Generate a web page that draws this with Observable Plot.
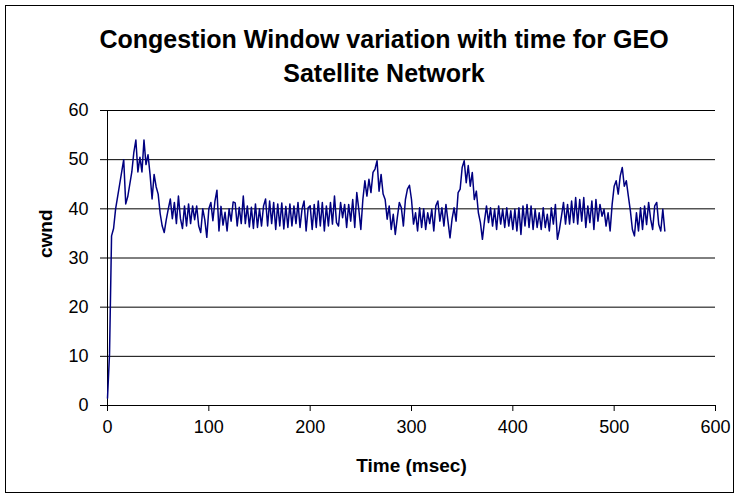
<!DOCTYPE html>
<html>
<head>
<meta charset="utf-8">
<script src="https://cdn.jsdelivr.net/npm/d3@7"></script>
<script src="https://cdn.jsdelivr.net/npm/@observablehq/plot@0.6"></script>
<style>
  html, body { margin: 0; padding: 0; background: #fff; }
  #wrap { position: relative; width: 735px; height: 494px; overflow: hidden; font-family: "Liberation Sans", Arial, sans-serif; }
  #frame { position: absolute; left: 5px; top: 5px; width: 727px; height: 486px; border: 1px solid #000; pointer-events: none; }
  .title { position: absolute; left: 0; width: 768px; text-align: center; font-weight: bold; font-size: 25px; color: #000; white-space: nowrap; }
  #chart { position: absolute; left: 0; top: 0; }
</style>
</head>
<body>
<div id="wrap">
  <div id="chart"></div>
  <div class="title" style="top:25px">Congestion Window variation with time for GEO</div>
  <div class="title" style="top:59px">Satellite Network</div>
  <div id="frame"></div>
</div>
<script>
// Chart text
const chartTitle = ["Congestion Window variation with time for GEO", "Satellite Network"];
const xLabel = "Time (msec)";
const yLabel = "cwnd";

// Tick values
const xTicks = [0, 100, 200, 300, 400, 500, 600];
const yTicks = [0, 10, 20, 30, 40, 50, 60];

// Sample interval (msec) between consecutive readings of cwnd
const sampleStep = 2;

// cwnd readings, one every 2 msec from t = 0 to t = 550
const cwnd = [
  1.5, 10.5, 34.5, 36, 40, 42.5, 45, 47.5, 50, 41,
  42.5, 45, 47.5, 51.5, 54, 47.5, 50.5, 47.5, 54, 49,
  51, 47, 42, 47, 44.5, 43, 39, 36.5, 35.2, 37.8,
  40, 42, 38, 41.3, 37, 42.6, 38, 36, 40.6, 36.5,
  41, 37, 40.6, 37.8, 40.6, 36.5, 35.2, 40, 37.8, 34.2,
  40, 41.3, 37.6, 41.5, 43.8, 35.5, 40.5, 36.7, 39.3, 35.5,
  40, 37.5, 41.4, 41.2, 36.5, 40.3, 37, 42.6, 37, 40.6,
  36.3, 40.3, 36, 41, 36.2, 40, 36.5, 40.6, 42, 36.5,
  41.6, 37, 41.3, 35.8, 41, 36.5, 41.2, 35.9, 40.5, 36.2,
  41, 36.5, 40.6, 37, 41.3, 36.2, 40, 41.6, 35.5, 40.2,
  40.6, 35.8, 40.9, 36.2, 41.6, 36.5, 41.3, 35.5, 40.6, 36.5,
  41.3, 36.9, 42.6, 37.2, 36.5, 41.3, 38.2, 40.9, 36.2, 40.9,
  37.5, 41.9, 36.2, 43.3, 39.9, 35.8, 41.9, 45.7, 42.6, 46,
  43.3, 47.4, 48.1, 49.8, 43.6, 47, 43, 41.9, 37.9, 40.6,
  35.8, 38.9, 34.8, 38.2, 41.3, 40.2, 36.5, 41.9, 44, 44.8,
  41.9, 36.9, 39.2, 35.5, 40.2, 36.2, 40, 35.8, 39.2, 37,
  39.9, 35.5, 40.6, 41.6, 37.5, 40.2, 36.5, 40.9, 37.5, 34.1,
  37.9, 40.2, 37.5, 43.3, 44, 48.4, 49.8, 45.3, 48.8, 44.6,
  47.4, 41.9, 43.6, 39.2, 37.2, 33.8, 37.5, 40.6, 37.2, 40.2,
  36.5, 39.9, 35.8, 40.6, 36.9, 39.9, 36.2, 40.2, 36.5, 39.6,
  35.8, 39.9, 35.5, 40.2, 34.8, 40.6, 36.5, 40.9, 36.2, 40.6,
  35.8, 39.9, 36.2, 39.2, 35.8, 40.2, 36.2, 38.9, 35.5, 40.2,
  36.9, 40.9, 33.8, 35.8, 38.5, 41.3, 36.9, 40.9, 36.9, 41.6,
  37.2, 42.3, 36.9, 41.9, 37.5, 42.3, 36.2, 40.6, 37.2, 41.6,
  35.8, 41.9, 37.5, 40.9, 38.5, 39.9, 36.5, 39.2, 35.5, 40.9,
  44.6, 45.7, 43, 46.7, 48.4, 44.6, 45.7, 42.6, 39.6, 35.8,
  34.5, 39.2, 35.5, 40.2, 35.8, 40.6, 36.8, 41.3, 37.9, 35.8,
  40.6, 41.3, 36.8, 35.5, 39.9, 35.5
];

const data = cwnd.map((v, i) => ({ t: i * sampleStep, v }));

const font = "'Liberation Sans', Arial, sans-serif";

const plot = Plot.plot({
  width: 735,
  height: 494,
  marginLeft: 107,
  marginRight: 20,
  marginTop: 110,
  marginBottom: 89,
  style: { fontFamily: font, fontSize: "18px", background: "transparent", color: "#000" },
  x: { domain: [0, 600] },
  y: { domain: [0, 60] },
  marks: [
    Plot.gridY(yTicks.filter(d => d > 0), { stroke: "#000", strokeOpacity: 1, strokeWidth: 1 }),
    Plot.ruleY([0], { stroke: "#000", strokeWidth: 1 }),
    Plot.ruleX([0], { stroke: "#000", strokeWidth: 1 }),
    Plot.axisX({ ticks: xTicks, tickSize: 6, tickPadding: 9, tickFormat: d => String(d), fontSize: 18, label: null }),
    Plot.axisY({ ticks: yTicks, tickSize: 7, tickPadding: 12, tickFormat: d => String(d), fontSize: 18, label: null }),
    Plot.line(data, { x: "t", y: "v", stroke: "#000080", strokeWidth: 1.5 }),
    Plot.text([xLabel], { frameAnchor: "bottom", dy: 66, text: d => d, fontWeight: "bold", fontSize: 19, fill: "#000" }),
    Plot.text([yLabel], { frameAnchor: "left", dx: -62, rotate: -90, text: d => d, fontWeight: "bold", fontSize: 19, fill: "#000" })
  ]
});
document.getElementById("chart").appendChild(plot);
</script>
</body>
</html>
